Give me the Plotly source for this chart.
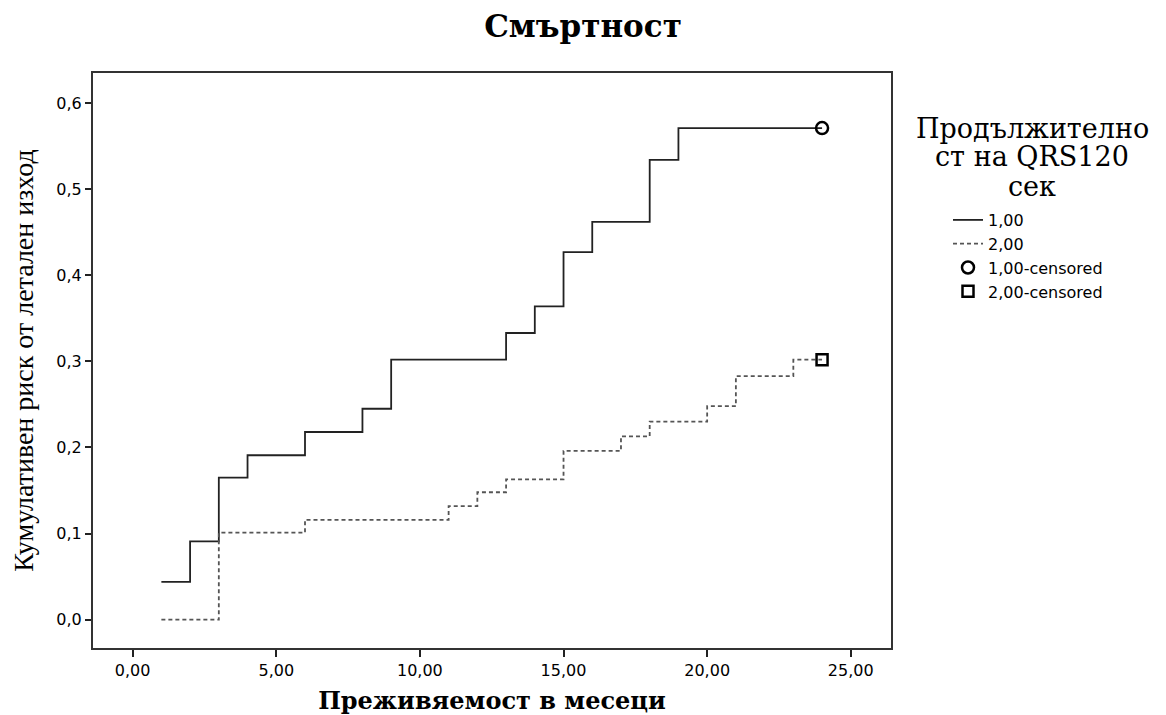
import plotly.graph_objects as go

# Group 1,00 (QRS duration) - cumulative risk of lethal outcome
t1 = [1, 2, 3, 4, 6, 8, 9, 13, 14, 15, 16, 18, 19, 24]
r1 = [0.044, 0.091, 0.165, 0.191, 0.218, 0.245, 0.302, 0.333, 0.364, 0.427, 0.462, 0.534, 0.571, 0.571]
# Group 2,00
t2 = [1, 3, 6, 11, 12, 13, 15, 17, 18, 20, 21, 23, 24]
r2 = [0.0, 0.101, 0.116, 0.132, 0.148, 0.163, 0.196, 0.213, 0.230, 0.248, 0.283, 0.302, 0.302]
# censored points
c1_t, c1_r = [24], [0.571]
c2_t, c2_r = [24], [0.302]

x_ticks = [0, 5, 10, 15, 20, 25]
x_ticklabels = ["0,00", "5,00", "10,00", "15,00", "20,00", "25,00"]
y_ticks = [0, 0.1, 0.2, 0.3, 0.4, 0.5, 0.6]
y_ticklabels = ["0,0", "0,1", "0,2", "0,3", "0,4", "0,5", "0,6"]
legend_title_lines = ["Продължително", "ст на QRS120", "сек"]

SERIF_W = "DejaVu Serif, serif"
SERIF = "Liberation Serif, Times New Roman, serif"
SANS = "DejaVu Sans, Arial, sans-serif"

fig = go.Figure()
fig.add_trace(go.Scatter(x=t1, y=r1, mode="lines", line_shape="hv",
                         line=dict(color="#222222", width=1.8), name="1,00"))
fig.add_trace(go.Scatter(x=t2, y=r2, mode="lines", line_shape="hv",
                         line=dict(color="#555555", width=1.8, dash="4px,3px"), name="2,00"))
fig.add_trace(go.Scatter(x=c1_t, y=c1_r, mode="markers", name="1,00-censored",
                         marker=dict(symbol="circle-open", size=12, color="black",
                                     line=dict(width=2.5, color="black"))))
fig.add_trace(go.Scatter(x=c2_t, y=c2_r, mode="markers", name="2,00-censored",
                         marker=dict(symbol="square-open", size=11, color="black",
                                     line=dict(width=2.5, color="black"))))

PT, PB, PL, PR = 73, 648, 93, 891
ann = []
for line, yc in zip(legend_title_lines, [128, 157, 186]):
    ann.append(dict(text=line, xref="paper", yref="paper",
                    x=(1032 - PL) / (PR - PL), y=(PB - yc) / (PB - PT),
                    xanchor="center", yanchor="middle", showarrow=False,
                    font=dict(family=SERIF_W, size=27, color="black")))

fig.update_layout(
    width=1166, height=715,
    margin=dict(l=PL, r=1166 - PR, t=PT, b=715 - PB, autoexpand=False),
    paper_bgcolor="white", plot_bgcolor="white",
    title=dict(text="<b>Смъртност</b>", x=0.5, xref="container", xanchor="center",
               y=1 - 26 / 715, yref="container", yanchor="middle",
               font=dict(family=SERIF_W, size=31, color="black")),
    showlegend=True,
    legend=dict(x=(948 - PL) / (PR - PL), y=(PB - 203) / (PB - PT), xanchor="left", yanchor="top",
                font=dict(family=SANS, size=16, color="black"),
                tracegroupgap=0, itemwidth=30, bgcolor="rgba(0,0,0,0)"),
    annotations=ann,
)
fig.update_xaxes(range=[-1.38, 26.4], tickvals=x_ticks, ticktext=x_ticklabels,
                 showgrid=False, zeroline=False, showline=True, mirror=True,
                 linecolor="#333333", linewidth=2, ticks="outside", ticklen=7,
                 tickcolor="#222222", tickwidth=1.5, automargin=False,
                 tickfont=dict(family=SANS, size=16, color="black"),
                 title=dict(text="<b>Преживяемост в месеци</b>",
                            font=dict(family=SERIF_W, size=24, color="black")))
fig.update_yaxes(range=[-0.0329, 0.635], tickvals=y_ticks, ticktext=y_ticklabels,
                 showgrid=False, zeroline=False, showline=True, mirror=True,
                 linecolor="#333333", linewidth=2, ticks="outside", ticklen=6,
                 tickcolor="#222222", tickwidth=1.5, automargin=False,
                 tickfont=dict(family=SANS, size=16, color="black"),
                 title=dict(text="Кумулативен риск от летален изход",
                            font=dict(family=SERIF, size=28, color="black")))

fig.write_html("out.html")
